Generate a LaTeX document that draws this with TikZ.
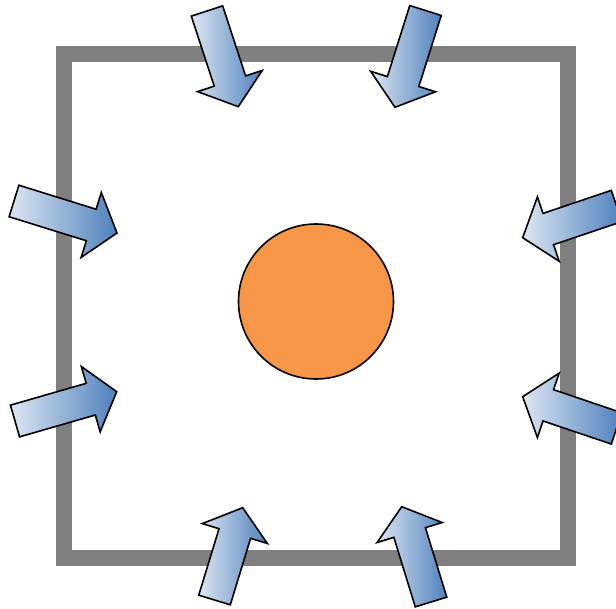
\documentclass[tikz,border=0pt]{standalone}
\usetikzlibrary{calc}
\definecolor{arrowlight}{RGB}{220,230,242}
\definecolor{arrowdark}{RGB}{79,129,189}
\definecolor{ballorange}{RGB}{247,150,70}

\tikzset{
  frame/.style = {draw=gray, line width=16pt},
  inarrow/.style = {draw=black, line width=1.6pt, line join=miter,
                    left color=arrowlight, right color=arrowdark},
  ball/.style = {circle, draw=black, line width=1.6pt, fill=ballorange,
                 minimum size=155pt, inner sep=0pt}
}

\begin{document}
\begin{tikzpicture}[x=1pt, y=-1pt]

    \useasboundingbox (0,0) rectangle (616,609);
    \clip (0,0) rectangle (616,609);

    % box
    \draw[frame] (64,53.7) rectangle (568,558);

    % arrows pushing inwards: name/tail/tip
    \foreach \n/\sx/\sy/\tx/\ty in {tl/207/11/238.3/106.7, tr/425.5/10.5/395/107.3,
                                    lu/14/201/117/233, ll/15/421/116.7/391.7,
                                    ru/616.6/206/522.7/237.7, rl/616.6/428.4/522.7/396.7,
                                    bl/214.5/600/242.7/507.7, br/431/602/401.7/506.7}
    {
      \coordinate (\n-tail) at (\sx,\sy);
      \coordinate (\n-tip) at (\tx,\ty);
      \coordinate (\n-head) at ($(\n-tip)!27pt!(\n-tail)$);
      \path[inarrow] ($(\n-tail)!16.5pt!90:(\n-tip)$)
                  -- ($(\n-head)!16.5pt!90:(\n-tip)$)
                  -- ($(\n-head)!34pt!90:(\n-tip)$)
                  -- (\n-tip)
                  -- ($(\n-head)!34pt!-90:(\n-tip)$)
                  -- ($(\n-head)!16.5pt!-90:(\n-tip)$)
                  -- ($(\n-tail)!16.5pt!-90:(\n-tip)$)
                  -- cycle;
    }

    \node[ball] (core) at (316,301.5) {};

\end{tikzpicture}
\end{document}
